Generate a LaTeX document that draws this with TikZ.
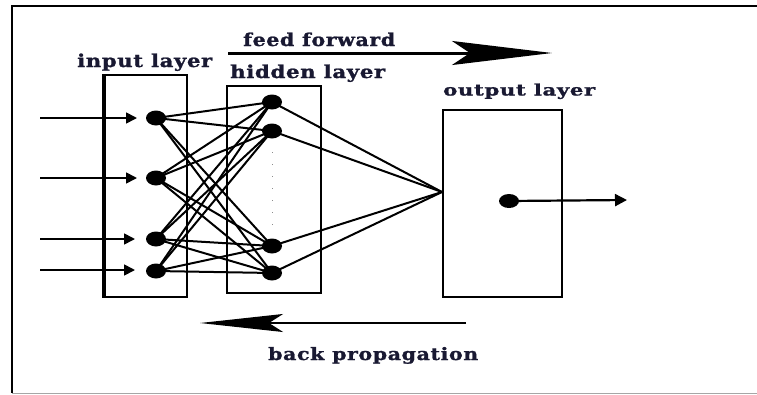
\documentclass[tikz,border=0pt]{standalone}
\usepackage{fontspec}
\setmainfont{DejaVu Serif}
\usetikzlibrary{arrows.meta,shapes.geometric}
\definecolor{txt}{RGB}{25,25,50}
\begin{document}
\begin{tikzpicture}[x=1pt,y=-1pt,
  neuron/.style={ellipse,fill=black,minimum width=20pt,minimum height=15pt,inner sep=0pt},
  lbox/.style={draw,line width=1.6pt,inner sep=0pt},
  conn/.style={line width=2pt},
  inarrow/.style={line width=1.7pt,-{Triangle[length=11pt,width=11pt]}},
  lab/.style={inner sep=0pt,anchor=base west,text=txt,font=\bfseries\addfontfeature{FakeBold=1.2,LetterSpace=3}}]
\useasboundingbox (0,0) rectangle (757,394);
\fill[white] (0,0) rectangle (757,394);
% frame
\coordinate (ftl) at (12,6);
\coordinate (ftr) at (757,6);
\coordinate (fbl) at (12,393);
\coordinate (fbr) at (757,393);
\draw[line width=1.6pt] (ftr) -- (ftl) -- (fbl);
\draw[line width=1pt,black!35] (fbl) -- (fbr);
% layer boxes
\node[lbox,minimum width=83pt,minimum height=222pt] (inbox) at (145.5,186) {};
\node[lbox,minimum width=94pt,minimum height=207pt] (hidbox) at (274,189.5) {};
\node[lbox,minimum width=119pt,minimum height=187pt] (outbox) at (502.5,203.5) {};
\draw[line width=3.5pt] ([xshift=1pt]inbox.north west) -- ([xshift=1pt]inbox.south west);
% neurons
\node[neuron] (i1) at (156,118) {};
\node[neuron] (i2) at (156,178) {};
\node[neuron] (i3) at (156,239) {};
\node[neuron] (i4) at (156,271) {};
\node[neuron] (h1) at (272,102) {};
\node[neuron] (h2) at (272,131) {};
\node[neuron] (h3) at (272,246) {};
\node[neuron] (h4) at (272,273) {};
\node[neuron,minimum height=14pt] (o1) at (509,201) {};
\coordinate (conv) at (442,192);
% dotted line in hidden layer
\coordinate (d1) at (272,152);
\coordinate (d2) at (272,228);
\draw[black!45,line width=1pt,dash pattern=on 1pt off 11pt] (d1) -- (d2);
% input arrows
\foreach \k/\y/\t in {1/118/137,2/178/137,3/239/135,4/270/135}{
  \coordinate (s\k) at (40,\y);
  \coordinate (t\k) at (\t,\y);
  \draw[inarrow] (s\k) -- (t\k);
}
% input -> hidden
\foreach \a in {1,2,3,4}{
  \foreach \b in {1,2,3,4}{
    \draw[conn] (i\a.center) -- (h\b.center);
  }
}
% hidden -> output
\foreach \b in {1,2,3,4}{
  \draw[conn] (h\b.center) -- (conv);
}
% output arrow
\coordinate (oend) at (627,200);
\draw[line width=2.2pt,-{Triangle[length=12pt,width=12pt]}] (o1.center) -- (oend);
% feed forward arrow
\coordinate (ff1) at (228,53);
\coordinate (ff2) at (552,53);
\draw[line width=3pt,-{Stealth[length=100pt,width=24pt,inset=18pt]}] (ff1) -- (ff2);
% back propagation arrow
\coordinate (bp1) at (466,323);
\coordinate (bp2) at (200,323);
\draw[line width=2.2pt,-{Stealth[length=83pt,width=18pt,inset=14pt]}] (bp1) -- (bp2);
% labels
\node[lab] (linput) at (77,67) {\resizebox{135pt}{13.5pt}{input layer}};
\node[lab] (lff) at (243,46) {\resizebox{152pt}{13.5pt}{feed forward}};
\node[lab] (lhid) at (230,78) {\resizebox{155pt}{13.5pt}{hidden layer}};
\node[lab] (lout) at (443,95.5) {\resizebox{152pt}{12pt}{output layer}};
\node[lab] (lbp) at (268,360) {\resizebox{210pt}{13pt}{back propagation}};
\end{tikzpicture}
\end{document}
